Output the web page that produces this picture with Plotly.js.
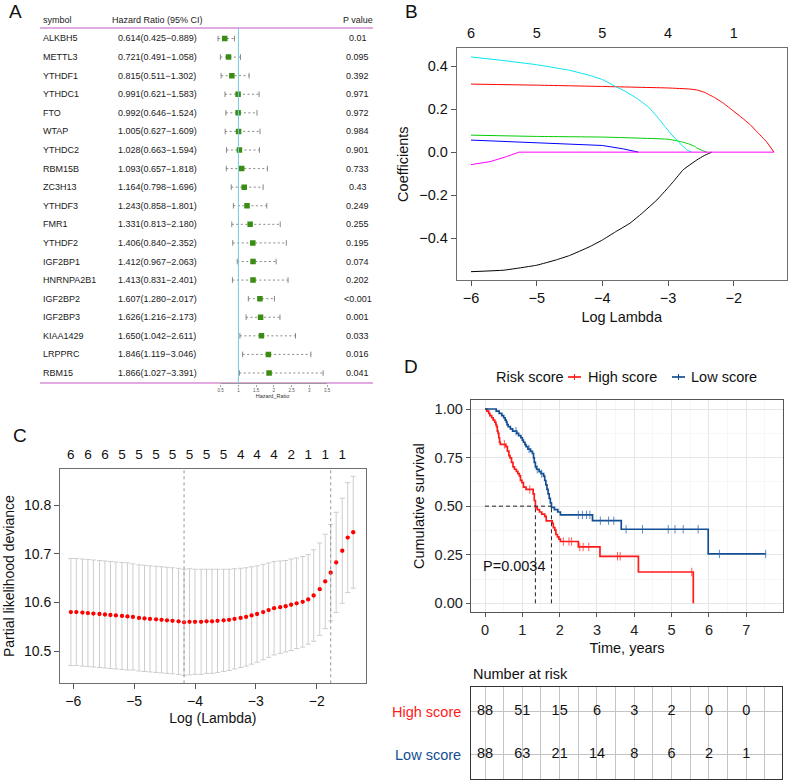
<!DOCTYPE html>
<html><head><meta charset="utf-8">
<script src="https://cdn.plot.ly/plotly-3.0.1.min.js"></script>
<style>html,body{margin:0;padding:0;background:#fff;} #chart{width:788px;height:780px;}</style>
</head><body><div id="chart"></div>
<script>
// ================= DATA =================
// Panel A: univariate Cox forest plot
const genes = ["ALKBH5","METTL3","YTHDF1","YTHDC1","FTO","WTAP","YTHDC2","RBM15B","ZC3H13","YTHDF3","FMR1","YTHDF2","IGF2BP1","HNRNPA2B1","IGF2BP2","IGF2BP3","KIAA1429","LRPPRC","RBM15"];
const hr     = [0.614,0.721,0.815,0.991,0.992,1.005,1.028,1.093,1.164,1.243,1.331,1.406,1.412,1.413,1.607,1.626,1.650,1.846,1.866];
const hrLow  = [0.425,0.491,0.511,0.621,0.646,0.627,0.663,0.657,0.798,0.858,0.813,0.840,0.967,0.831,1.280,1.216,1.042,1.119,1.027];
const hrHigh = [0.889,1.058,1.302,1.583,1.524,1.609,1.594,1.818,1.696,1.801,2.180,2.352,2.063,2.401,2.017,2.173,2.611,3.046,3.391];
const pLabels = ["0.01","0.095","0.392","0.971","0.972","0.984","0.901","0.733","0.43","0.249","0.255","0.195","0.074","0.202","<0.001","0.001","0.033","0.016","0.041"];
const hrTicks = [0.5,1,1.5,2,2.5,3,3.5];
const hrTickLabels = ["0.5","1","1.5","2","2.5","3","3.5"];

// Panel B: LASSO coefficient paths (log lambda, coefficient)
const pathBlackX   = [-6.0,-5.5,-5.0,-4.7,-4.5,-4.2,-4.0,-3.8,-3.58,-3.4,-3.17,-3.0,-2.92,-2.77,-2.65,-2.56,-2.45,-2.335];
const pathBlackY   = [-0.555,-0.548,-0.525,-0.500,-0.480,-0.440,-0.408,-0.370,-0.330,-0.285,-0.222,-0.165,-0.137,-0.082,-0.055,-0.036,-0.016,0];
const pathRedX     = [-6.0,-5.0,-4.0,-3.0,-2.665,-2.55,-2.44,-2.3,-2.16,-2.0,-1.9,-1.75,-1.65,-1.5,-1.386];
const pathRedY     = [0.316,0.311,0.305,0.298,0.293,0.288,0.277,0.255,0.228,0.190,0.166,0.128,0.096,0.048,0];
const pathGreenX   = [-6.0,-5.0,-4.0,-3.0,-2.82,-2.69,-2.6,-2.56,-2.48,-2.41];
const pathGreenY   = [0.079,0.073,0.070,0.060,0.050,0.039,0.028,0.019,0.008,0];
const pathBlueX    = [-6.0,-5.0,-4.0,-3.68,-3.55,-3.45];
const pathBlueY    = [0.056,0.045,0.031,0.015,0.007,0];
const pathCyanX    = [-6.0,-5.5,-5.0,-4.5,-4.2,-4.0,-3.8,-3.65,-3.48,-3.3,-3.17,-3.05,-2.97,-2.88,-2.82,-2.75,-2.71,-2.64];
const pathCyanY    = [0.442,0.425,0.406,0.380,0.357,0.337,0.305,0.282,0.251,0.210,0.166,0.120,0.090,0.060,0.042,0.020,0.010,0];
const pathMagentaX = [-6.0,-5.71,-5.46,-5.27,-1.386];
const pathMagentaY = [-0.058,-0.044,-0.021,0,0];
const pathTopTicks = [-6,-5,-4,-3,-2];
const pathTopLabels = ["6","5","5","4","1"];

// Panel C: cross-validation curve
const cvLogLambda = [-6.04,-5.95,-5.85,-5.76,-5.67,-5.57,-5.48,-5.39,-5.30,-5.20,-5.11,-5.02,-4.92,-4.83,-4.74,-4.64,-4.55,-4.46,-4.37,-4.27,-4.18,-4.09,-4.00,-3.90,-3.81,-3.72,-3.63,-3.53,-3.44,-3.35,-3.25,-3.16,-3.07,-2.98,-2.88,-2.79,-2.70,-2.60,-2.51,-2.42,-2.33,-2.23,-2.14,-2.05,-1.95,-1.86,-1.77,-1.68,-1.58,-1.49,-1.40];
const cvMean = [10.580,10.580,10.579,10.578,10.577,10.576,10.575,10.574,10.573,10.572,10.571,10.570,10.568,10.567,10.566,10.565,10.564,10.563,10.562,10.561,10.559,10.560,10.560,10.560,10.561,10.561,10.562,10.563,10.564,10.566,10.568,10.570,10.573,10.576,10.580,10.584,10.588,10.590,10.592,10.595,10.598,10.601,10.606,10.614,10.627,10.643,10.661,10.682,10.706,10.733,10.744];
const cvSd = [0.110,0.110,0.110,0.110,0.110,0.110,0.110,0.110,0.110,0.110,0.110,0.109,0.109,0.109,0.109,0.109,0.109,0.109,0.109,0.109,0.109,0.109,0.108,0.108,0.107,0.107,0.106,0.105,0.104,0.103,0.102,0.101,0.100,0.099,0.098,0.097,0.096,0.095,0.094,0.094,0.093,0.093,0.092,0.094,0.095,0.097,0.099,0.103,0.108,0.113,0.115];
const cvTopLabels = ["6","6","6","5","5","5","5","5","5","5","4","4","4","2","1","1","1"];

// Panel D: Kaplan-Meier curves
const highTimes = [0,0.05,0.10,0.13,0.18,0.22,0.26,0.29,0.31,0.33,0.35,0.37,0.39,0.41,0.56,0.60,0.64,0.67,0.71,0.75,0.79,0.84,0.88,0.92,0.95,0.99,1.03,1.10,1.29,1.32,1.35,1.40,1.46,1.52,1.60,1.64,1.80,1.83,1.87,1.90,1.94,1.98,2.02,2.50,3.08,4.11,5.58];
const highSurv  = [1,0.989,0.977,0.966,0.955,0.943,0.932,0.920,0.909,0.886,0.875,0.852,0.830,0.818,0.806,0.783,0.760,0.748,0.725,0.702,0.690,0.679,0.667,0.656,0.633,0.621,0.598,0.586,0.563,0.529,0.494,0.482,0.470,0.459,0.447,0.424,0.412,0.389,0.377,0.354,0.342,0.330,0.318,0.290,0.242,0.161,0];
const highCensor = [0.52,1.20,2.10,2.25,2.32,2.54,2.63,2.78,3.55,3.62,5.54];
const lowTimes = [0,0.30,0.38,0.45,0.50,0.54,0.57,0.59,0.62,0.68,0.74,0.85,0.90,0.96,1.00,1.03,1.07,1.10,1.15,1.22,1.27,1.30,1.32,1.35,1.38,1.45,1.50,1.57,1.60,1.63,1.66,1.69,1.72,1.75,1.78,1.86,1.95,2.02,2.88,3.65,5.98,7.52];
const lowSurv  = [1,0.989,0.977,0.966,0.955,0.943,0.932,0.920,0.909,0.898,0.886,0.875,0.863,0.852,0.840,0.829,0.817,0.806,0.794,0.782,0.771,0.748,0.725,0.702,0.690,0.678,0.667,0.655,0.632,0.609,0.586,0.563,0.540,0.517,0.494,0.482,0.470,0.455,0.425,0.381,0.254,0.254];
const lowCensor = [0.83,1.18,1.40,1.52,2.50,2.61,2.72,2.81,3.09,3.31,3.45,3.78,4.22,4.91,5.09,5.31,5.71,6.28,7.52];
const pValueText = "P=0.0034";
const riskTimes = [0,1,2,3,4,5,6,7];
const highRisk = [88,51,15,6,3,2,0,0];
const lowRisk  = [88,63,21,14,8,6,2,1];
const groupNames = ["High score","Low score"];

// ================= LAYOUT HELPERS =================
const W = 788, H = 780;
const FONT = "Liberation Sans, Arial, Helvetica, sans-serif";
const px = v => v / W;
const py = v => 1 - v / H;
// axis range from two reference pixel positions and the domain edges (pixels)
function rng(d0, d1, v0, p0, v1, p1) {
  const u = (p1 - p0) / (v1 - v0);
  return [v0 + (d0 - p0) / u, v0 + (d1 - p0) / u];
}
const HIGH_COL = "#ff1a1a", LOW_COL = "#134f93";

const traces = [];
const shapes = [];
const annotations = [];

// ================= PANEL A =================
const rows = genes.map((g, i) => i + 1);
{
  const cx = [], cy = [];
  rows.forEach((r, i) => { cx.push(hrLow[i], hrHigh[i], null); cy.push(r, r, null); });
  traces.push({type:"scatter", mode:"lines", x:cx, y:cy, xaxis:"x", yaxis:"y",
    line:{color:"#7a7a7a", width:0.9, dash:"2px,2.5px"}, hoverinfo:"skip", showlegend:false});
  traces.push({type:"scatter", mode:"markers", x:hrLow.concat(hrHigh), y:rows.concat(rows), xaxis:"x", yaxis:"y",
    marker:{symbol:"line-ns-open", size:4, color:"#7a7a7a", line:{color:"#7a7a7a", width:0.9}}, hoverinfo:"skip", showlegend:false});
  traces.push({type:"scatter", mode:"markers", x:hr, y:rows, xaxis:"x", yaxis:"y",
    marker:{symbol:"square", size:5.5, color:"#3a8c12"}, hoverinfo:"skip", showlegend:false});
}
// pink rules
shapes.push({type:"line", xref:"paper", yref:"paper", x0:px(40), x1:px(373), y0:py(28), y1:py(28), line:{color:"#d98fd4", width:1.4}});
shapes.push({type:"line", xref:"paper", yref:"paper", x0:px(40), x1:px(373), y0:py(383), y1:py(383), line:{color:"#d98fd4", width:1.6}});
// forest axis line (0.5 .. 3.5)
shapes.push({type:"line", xref:"x", yref:"paper", x0:hrTicks[0], x1:hrTicks[hrTicks.length-1], y0:py(383.5), y1:py(383.5), line:{color:"#9a9a9a", width:1.2}});
// reference line HR = 1
shapes.push({type:"line", xref:"x", yref:"paper", x0:1, x1:1, y0:py(28), y1:py(383), line:{color:"#74cbdc", width:1}});
// headers
const aFont = {family:FONT, size:9, color:"#1a1a1a"};
annotations.push({xref:"paper", yref:"paper", x:px(41), y:py(20), text:"symbol", showarrow:false, xanchor:"left", yanchor:"middle", font:aFont});
annotations.push({xref:"paper", yref:"paper", x:px(110), y:py(20), text:"Hazard Ratio (95% CI)", showarrow:false, xanchor:"left", yanchor:"middle", font:aFont});
annotations.push({xref:"paper", yref:"paper", x:px(358), y:py(20), text:"P value", showarrow:false, xanchor:"center", yanchor:"middle", font:aFont});
rows.forEach((r, i) => {
  annotations.push({xref:"paper", yref:"y", x:px(41), y:r, text:genes[i], showarrow:false, xanchor:"left", yanchor:"middle", font:aFont});
  annotations.push({xref:"paper", yref:"y", x:px(116), y:r,
    text:hr[i].toFixed(3) + "(" + hrLow[i].toFixed(3) + "\u2212" + hrHigh[i].toFixed(3) + ")",
    showarrow:false, xanchor:"left", yanchor:"middle", font:aFont});
  annotations.push({xref:"paper", yref:"y", x:px(357.5), y:r, text:pLabels[i], showarrow:false, xanchor:"center", yanchor:"middle", font:aFont});
});

// ================= PANEL B =================
const pathDefs = [
  [pathBlackX, pathBlackY, "#000000", "spline"],
  [pathRedX, pathRedY, "#ff0000", "spline"],
  [pathGreenX, pathGreenY, "#00cd00", "spline"],
  [pathBlueX, pathBlueY, "#0000ff", "linear"],
  [pathCyanX, pathCyanY, "#00e5ee", "spline"],
  [pathMagentaX, pathMagentaY, "#ff00ff", "linear"]
];
pathDefs.forEach(d => traces.push({type:"scatter", mode:"lines", x:d[0], y:d[1], xaxis:"x2", yaxis:"y2",
  line:{color:d[2], width:1, shape:d[3], smoothing:0.3}, hoverinfo:"skip", showlegend:false}));
traces.push({type:"scatter", mode:"markers", x:pathTopTicks, y:pathTopTicks.map(() => 0), xaxis:"x3", yaxis:"y2",
  marker:{opacity:0}, hoverinfo:"skip", showlegend:false});

// ================= PANEL C =================
traces.push({type:"scatter", mode:"markers", x:cvLogLambda, y:cvMean, xaxis:"x4", yaxis:"y4",
  error_y:{type:"data", array:cvSd, symmetric:true, color:"#cdcdcd", thickness:1, width:2.6},
  marker:{color:"#ff0000", size:4.3}, hoverinfo:"skip", showlegend:false});
const cvTopTicks = cvLogLambda.filter((v, i) => i % 3 === 0);
traces.push({type:"scatter", mode:"markers", x:cvTopTicks, y:cvTopTicks.map(() => 10.6), xaxis:"x5", yaxis:"y4",
  marker:{opacity:0}, hoverinfo:"skip", showlegend:false});
// lambda.min and lambda.1se from the data
let iMin = 0; cvMean.forEach((v, i) => { if (v < cvMean[iMin]) iMin = i; });
const thr = cvMean[iMin] + cvSd[iMin];
let i1se = iMin; cvMean.forEach((v, i) => { if (i > iMin && v <= thr) i1se = i; });
[cvLogLambda[iMin], cvLogLambda[i1se]].forEach(v => shapes.push({type:"line", xref:"x4", yref:"y4 domain",
  x0:v, x1:v, y0:0, y1:1, line:{color:"#8a8a8a", width:0.9, dash:"dot"}}));

// ================= PANEL D =================
function survAt(ts, ss, t) { let s = ss[0]; for (let i = 0; i < ts.length; i++) if (ts[i] <= t) s = ss[i]; return s; }
function median(ts, ss) { for (let i = 0; i < ts.length; i++) if (ss[i] <= 0.5) return ts[i]; return null; }
traces.push({type:"scatter", mode:"lines", x:highTimes, y:highSurv, xaxis:"x6", yaxis:"y6",
  line:{color:HIGH_COL, width:1.7, shape:"hv"}, hoverinfo:"skip", showlegend:false});
traces.push({type:"scatter", mode:"lines", x:lowTimes, y:lowSurv, xaxis:"x6", yaxis:"y6",
  line:{color:LOW_COL, width:1.7, shape:"hv"}, hoverinfo:"skip", showlegend:false});
traces.push({type:"scatter", mode:"markers", x:highCensor, y:highCensor.map(t => survAt(highTimes, highSurv, t)), xaxis:"x6", yaxis:"y6",
  marker:{symbol:"line-ns-open", size:6, color:"rgba(255,40,40,0.75)", line:{color:"rgba(255,40,40,0.75)", width:1}}, hoverinfo:"skip", showlegend:false});
traces.push({type:"scatter", mode:"markers", x:lowCensor, y:lowCensor.map(t => survAt(lowTimes, lowSurv, t)), xaxis:"x6", yaxis:"y6",
  marker:{symbol:"line-ns-open", size:6, color:"rgba(40,100,180,0.75)", line:{color:"rgba(40,100,180,0.75)", width:1}}, hoverinfo:"skip", showlegend:false});
const medHigh = median(highTimes, highSurv), medLow = median(lowTimes, lowSurv);
const dashLine = {color:"#222", width:1, dash:"4px,3px"};
shapes.push({type:"line", xref:"x6", yref:"y6", x0:0, x1:Math.max(medHigh, medLow), y0:0.5, y1:0.5, line:dashLine});
shapes.push({type:"line", xref:"x6", yref:"y6", x0:medHigh, x1:medHigh, y0:0, y1:0.5, line:dashLine});
shapes.push({type:"line", xref:"x6", yref:"y6", x0:medLow, x1:medLow, y0:0, y1:0.5, line:dashLine});
annotations.push({xref:"x6", yref:"y6", x:-0.12, y:0.19, text:pValueText, showarrow:false, xanchor:"left", yanchor:"middle",
  font:{family:FONT, size:14.5, color:"#111"}});
// legend (drawn manually)
const lf = {family:FONT, size:14.5, color:"#111"};
annotations.push({xref:"paper", yref:"paper", x:px(494), y:py(377), text:"Risk score", showarrow:false, xanchor:"left", yanchor:"middle", font:lf});
annotations.push({xref:"paper", yref:"paper", x:px(586), y:py(377), text:groupNames[0], showarrow:false, xanchor:"left", yanchor:"middle", font:lf});
annotations.push({xref:"paper", yref:"paper", x:px(689), y:py(377), text:groupNames[1], showarrow:false, xanchor:"left", yanchor:"middle", font:lf});
[[568, 581, HIGH_COL], [672, 685, LOW_COL]].forEach(s => {
  shapes.push({type:"line", xref:"paper", yref:"paper", x0:px(s[0]), x1:px(s[1]), y0:py(377), y1:py(377), line:{color:s[2], width:1.7}});
  const m = (s[0] + s[1]) / 2;
  shapes.push({type:"line", xref:"paper", yref:"paper", x0:px(m), x1:px(m), y0:py(374), y1:py(380), line:{color:s[2], width:1}});
});

// ================= RISK TABLE =================
traces.push({type:"scatter", mode:"text", x:riskTimes, y:riskTimes.map(() => 2), text:highRisk.map(String), xaxis:"x7", yaxis:"y7",
  textfont:{family:FONT, size:14.5, color:"#111"}, cliponaxis:false, hoverinfo:"skip", showlegend:false});
traces.push({type:"scatter", mode:"text", x:riskTimes, y:riskTimes.map(() => 1), text:lowRisk.map(String), xaxis:"x7", yaxis:"y7",
  textfont:{family:FONT, size:14.5, color:"#111"}, cliponaxis:false, hoverinfo:"skip", showlegend:false});
annotations.push({xref:"paper", yref:"y7", x:px(463), y:2, text:groupNames[0], showarrow:false, xanchor:"right", yanchor:"middle",
  font:{family:FONT, size:14.5, color:HIGH_COL}});
annotations.push({xref:"paper", yref:"y7", x:px(463), y:1, text:groupNames[1], showarrow:false, xanchor:"right", yanchor:"middle",
  font:{family:FONT, size:14.5, color:LOW_COL}});
annotations.push({xref:"paper", yref:"paper", x:px(471), y:py(674), text:"Number at risk", showarrow:false, xanchor:"left", yanchor:"middle", font:lf});

// panel letters
[["A", 16, 12], ["B", 411, 12], ["C", 20, 435], ["D", 411, 366]].forEach(l =>
  annotations.push({xref:"paper", yref:"paper", x:px(l[1]), y:py(l[2]), text:l[0], showarrow:false, xanchor:"center", yanchor:"middle",
    font:{family:FONT, size:19, color:"#111"}}));

// ================= AXES =================
const tf = (s, c) => ({family:FONT, size:s, color:c || "#111"});
const plainAx = {showgrid:false, zeroline:false};
const boxAx = Object.assign({}, plainAx, {showline:true, mirror:true, linecolor:"#6f6f6f", linewidth:1, ticks:"outside", ticklen:5, tickcolor:"#555", tickfont:tf(14.5)});

const layout = {
  width:W, height:H, margin:{l:0, r:0, t:0, b:0}, paper_bgcolor:"#fff", plot_bgcolor:"#fff",
  font:{family:FONT}, showlegend:false, hovermode:false,
  // A
  xaxis: Object.assign({}, plainAx, {domain:[px(200), px(345)], range:rng(200, 345, 0.5, 220.7, 3.5, 327), anchor:"y",
    tickvals:hrTicks, ticktext:hrTickLabels, ticks:"outside", ticklen:2, tickwidth:0.8, tickcolor:"#8a8a8a",
    tickfont:tf(4.5, "#555"), title:{text:"Hazard_Ratio", font:tf(5.5, "#333"), standoff:1}}),
  yaxis: {domain:[py(383.5), py(28)], range:[19.565, 0.435], visible:false, anchor:"x"},
  // B
  xaxis2: Object.assign({}, boxAx, {domain:[px(456.7), px(786.7)], range:rng(456.7, 786.7, -6, 471, -2, 733.7), anchor:"y2",
    tick0:0, dtick:1, title:{text:"Log Lambda", font:tf(14.5), standoff:6}}),
  yaxis2: Object.assign({}, boxAx, {domain:[py(280), py(48.3)], range:rng(280, 48.3, -0.4, 238.3, 0.4, 66), anchor:"x2",
    tickvals:[-0.4,-0.2,0,0.2,0.4], ticktext:["\u22120.4","\u22120.2","0.0","0.2","0.4"], title:{text:"Coefficients", font:tf(14.5), standoff:7}}),
  xaxis3: Object.assign({}, plainAx, {overlaying:"x2", side:"top", anchor:"y2", range:rng(456.7, 786.7, -6, 471, -2, 733.7),
    tickvals:pathTopTicks, ticktext:pathTopLabels, ticks:"", showline:false, tickfont:tf(14.5), ticklabelstandoff:6}),
  // C
  xaxis4: Object.assign({}, boxAx, {domain:[px(60), px(365.7)], range:rng(60, 365.7, -6, 73.3, -2, 316.7), anchor:"y4",
    tick0:0, dtick:1, tickfont:tf(14), title:{text:"Log (Lambda)", font:tf(14), standoff:5}}),
  yaxis4: Object.assign({}, boxAx, {domain:[py(683.3), py(469)], anchor:"x4",
    range:rng(683.3, 469, 10.5, 651, 10.8, 505),
    tickvals:[10.5,10.6,10.7,10.8], ticktext:["10.5","10.6","10.7","10.8"], tickfont:tf(14),
    title:{text:"Partial likelihood deviance", font:tf(14), standoff:6}}),
  xaxis5: Object.assign({}, plainAx, {overlaying:"x4", side:"top", anchor:"y4", range:rng(60, 365.7, -6, 73.3, -2, 316.7),
    tickvals:cvTopTicks, ticktext:cvTopLabels, ticks:"", showline:false, tickfont:tf(13.5), ticklabelstandoff:6}),
  // D
  xaxis6: {domain:[px(470.7), px(783.3)], range:rng(470.7, 783.3, 0, 485, 7, 746.3), anchor:"y6",
    tick0:0, dtick:1, showgrid:true, gridcolor:"#e6e6e6", gridwidth:1, zeroline:false,
    minor:{dtick:0.5, showgrid:true, gridcolor:"#f2f2f2", gridwidth:0.6, ticks:""},
    showline:true, mirror:true, linecolor:"#555", linewidth:1, ticks:"outside", ticklen:4, tickcolor:"#555",
    tickfont:tf(14.5, "#222"), title:{text:"Time, years", font:tf(14.5), standoff:6}},
  yaxis6: {domain:[py(612.3), py(400)], range:rng(612.3, 400, 0, 603.3, 1, 409), anchor:"x6",
    tickvals:[0,0.25,0.5,0.75,1], ticktext:["0.00","0.25","0.50","0.75","1.00"],
    showgrid:true, gridcolor:"#e6e6e6", gridwidth:1, zeroline:false,
    minor:{tickvals:[0.125,0.375,0.625,0.875], showgrid:true, gridcolor:"#f2f2f2", gridwidth:0.6, ticks:""},
    showline:true, mirror:true, linecolor:"#555", linewidth:1, ticks:"outside", ticklen:4, tickcolor:"#555",
    tickfont:tf(14.5, "#222"), title:{text:"Cumulative survival", font:tf(14.5), standoff:6}},
  // Risk table
  xaxis7: {domain:[px(470.7), px(781.7)], range:rng(470.7, 781.7, 0, 485, 7, 746.3), anchor:"y7",
    tick0:0, dtick:1, showticklabels:false, ticks:"", showgrid:true, gridcolor:"#c4c4c4", gridwidth:1, zeroline:false,
    minor:{dtick:0.5, showgrid:true, gridcolor:"#c4c4c4", gridwidth:1, ticks:""},
    showline:true, mirror:true, linecolor:"#333", linewidth:1},
  yaxis7: {domain:[py(779), py(687.3)], range:[0.44, 2.56], anchor:"x7", tickvals:[1,2], showticklabels:false, ticks:"",
    showgrid:true, gridcolor:"#c4c4c4", gridwidth:1, zeroline:false, showline:true, mirror:true, linecolor:"#333", linewidth:1},
  shapes:shapes, annotations:annotations
};

Plotly.newPlot("chart", traces, layout, {staticPlot:true, displayModeBar:false});
</script></body></html>
